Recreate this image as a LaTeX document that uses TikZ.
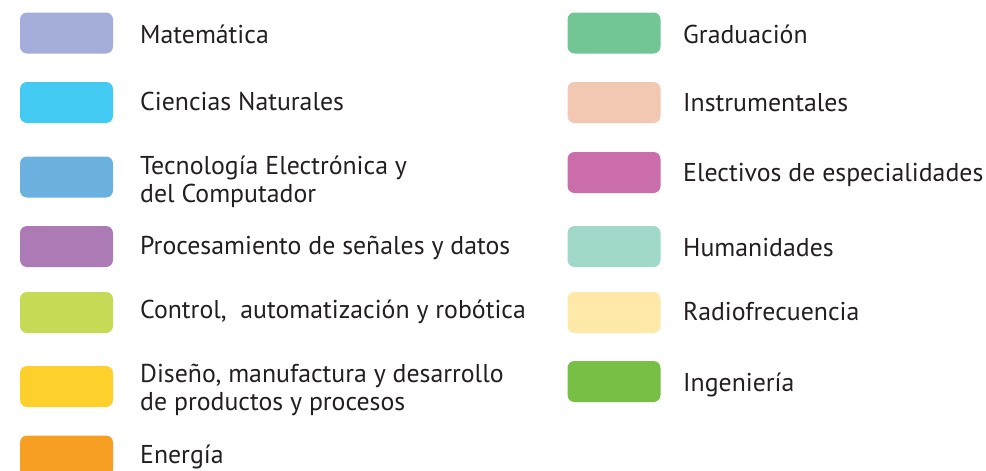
\documentclass[tikz,border=0pt]{standalone}
\usepackage{fontspec}
\setmainfont{PT Sans}
\usetikzlibrary{positioning}
\definecolor{ink}{RGB}{35,31,32}
\definecolor{cMat}{RGB}{165,174,218}
\definecolor{cCie}{RGB}{67,202,242}
\definecolor{cTec}{RGB}{107,177,224}
\definecolor{cPro}{RGB}{172,122,180}
\definecolor{cCon}{RGB}{198,218,85}
\definecolor{cDis}{RGB}{253,208,44}
\definecolor{cEne}{RGB}{247,159,34}
\definecolor{cGra}{RGB}{114,197,149}
\definecolor{cIns}{RGB}{243,200,178}
\definecolor{cEle}{RGB}{203,109,170}
\definecolor{cHum}{RGB}{160,216,202}
\definecolor{cRad}{RGB}{255,233,169}
\definecolor{cIng}{RGB}{120,191,69}
\tikzset{chip/.style={rectangle, rounded corners=7pt, minimum width=93pt, minimum height=41pt, inner sep=0pt, draw=none}}
\tikzset{legtext/.style={anchor=base west, inner sep=0pt, align=left, text=ink, font=\fontsize{25.8}{28}\selectfont}}

\begin{document}
\begin{tikzpicture}[x=1pt,y=-1pt]
	\useasboundingbox (0,0) rectangle (986,471);
	% left column
	\node [chip, fill=cMat] (mat) at (66.5, 33) {};
	\node [chip, fill=cCie] (cie) at (66.5, 102.5) {};
	\node [chip, fill=cTec] (tec) at (66.5, 177) {};
	\node [chip, fill=cPro] (pro) at (66.5, 246.5) {};
	\node [chip, fill=cCon] (con) at (66.5, 312.5) {};
	\node [chip, fill=cDis] (dis) at (66.5, 386.5) {};
	\node [chip, fill=cEne] (ene) at (66.5, 456) {};
	\node [legtext] (matT) at (140, 43.3) {Matemática};
	\node [legtext] (cieT) at (140, 110.5) {Ciencias Naturales};
	\node [legtext] (tecT) at (140, 202.7) {Tecnología Electrónica y\\del Computador};
	\node [legtext] (proT) at (140, 254.5) {Procesamiento de señales y datos};
	\node [legtext] (conT) at (140, 318.5) {Control,~ automatización y robótica};
	\node [legtext] (disT) at (140, 410) {Diseño, manufactura y desarrollo\\de productos y procesos};
	\node [legtext] (eneT) at (140, 463.3) {Energía};
	% right column
	\node [chip, fill=cGra] (gra) at (614, 33) {};
	\node [chip, fill=cIns] (ins) at (614, 102.5) {};
	\node [chip, fill=cEle] (ele) at (614, 172.5) {};
	\node [chip, fill=cHum] (hum) at (614, 246.5) {};
	\node [chip, fill=cRad] (rad) at (614, 312.5) {};
	\node [chip, fill=cIng] (ing) at (614, 381.5) {};
	\node [legtext] (graT) at (683, 43.3) {Graduación};
	\node [legtext] (insT) at (683, 111) {Instrumentales};
	\node [legtext] (eleT) at (683, 181.7) {Electivos de especialidades};
	\node [legtext] (humT) at (683, 256.5) {Humanidades};
	\node [legtext] (radT) at (683, 320.7) {Radiofrecuencia};
	\node [legtext] (ingT) at (683, 391.7) {Ingeniería};
\end{tikzpicture}
\end{document}
